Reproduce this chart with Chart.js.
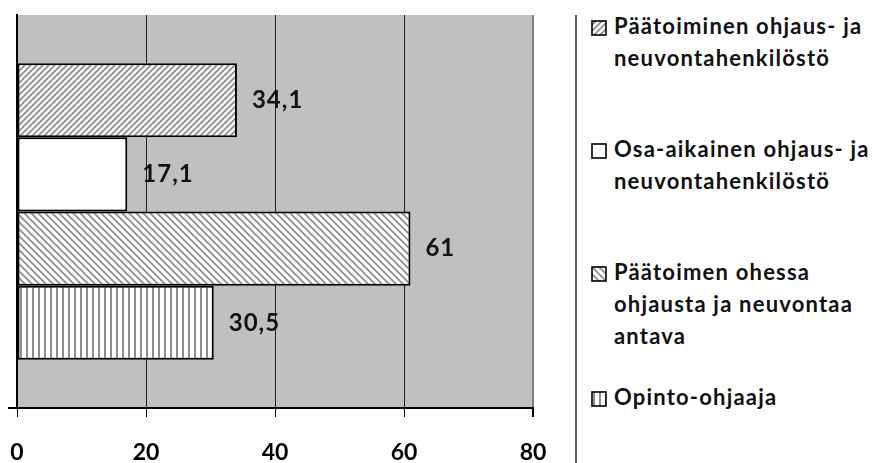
<!DOCTYPE html>
<html>
<head>
<meta charset="utf-8">
<script src="https://cdn.jsdelivr.net/npm/chart.js@4"></script>
<style>
  body { margin: 0; background: #fff; }
  #wrap { position: relative; width: 875px; height: 463px; overflow: hidden; }
  #chartBox { position: absolute; left: 0; top: 0; width: 575px; height: 489px; }
  #divider { position: absolute; left: 575px; top: 15px; width: 2px; height: 448px; background: #606060; }
  .item { position: absolute; left: 591px; font-family: Lato, sans-serif; font-weight: bold;
          font-size: 22px; line-height: 32px; color: #111; white-space: pre-line; letter-spacing: 1.2px; }
  .item canvas { position: absolute; left: 0; top: 10px; }
  .item span { display: block; margin-left: 23px; }
</style>
</head>
<body>
<div id="wrap">
  <div id="chartBox"><canvas id="canvas1"></canvas></div>
  <div id="divider"></div>
  <div id="legend"></div>
</div>
<script>
var ctx1 = document.getElementById("canvas1").getContext("2d");

// one category, four series (horizontal clustered bars)
const categories = [""];
const seriesNames = [
  "Päätoiminen ohjaus- ja\nneuvontahenkilöstö",
  "Osa-aikainen ohjaus- ja\nneuvontahenkilöstö",
  "Päätoimen ohessa\nohjausta ja neuvontaa\nantava",
  "Opinto-ohjaaja"
];
const seriesValues = [34.1, 17.1, 61, 30.5];
const xTicks = [0, 20, 40, 60, 80];

// hatch fills
function makePattern(kind, size) {
  const c = document.createElement("canvas");
  c.width = size; c.height = size;
  const g = c.getContext("2d");
  g.fillStyle = "#fff";
  g.fillRect(0, 0, size, size);
  g.strokeStyle = "#8c8c8c";
  g.lineWidth = 1.7;
  g.beginPath();
  if (kind === "up") {
    g.moveTo(0, size); g.lineTo(size, 0);
    g.moveTo(-size / 2, size / 2); g.lineTo(size / 2, -size / 2);
    g.moveTo(size / 2, size * 1.5); g.lineTo(size * 1.5, size / 2);
  } else if (kind === "down") {
    g.moveTo(0, 0); g.lineTo(size, size);
    g.moveTo(-size / 2, size / 2); g.lineTo(size / 2, size * 1.5);
    g.moveTo(size / 2, -size / 2); g.lineTo(size * 1.5, size / 2);
  } else if (kind === "vert") {
    g.lineWidth = 2;
    g.moveTo(size / 2, 0); g.lineTo(size / 2, size);
  }
  g.stroke();
  return g.createPattern(c, "repeat");
}

const fills = [
  makePattern("up", 6),
  "#ffffff",
  makePattern("down", 7),
  makePattern("vert", 6)
];

const plotBg = {
  id: "plotBg",
  beforeDraw(chart) {
    const a = chart.chartArea, c = chart.ctx;
    c.save();
    c.fillStyle = "#c0c0c0";
    c.fillRect(a.left, a.top, a.right - a.left, a.bottom - a.top);
    c.restore();
  }
};

const valueLabels = {
  id: "valueLabels",
  afterDatasetsDraw(chart) {
    const c = chart.ctx;
    c.save();
    c.font = "bold 24px Lato, sans-serif";
    c.letterSpacing = "1px";
    c.fillStyle = "#111";
    c.textAlign = "left";
    c.textBaseline = "middle";
    chart.data.datasets.forEach((ds, i) => {
      chart.getDatasetMeta(i).data.forEach((bar, j) => {
        const txt = String(ds.data[j]).replace(".", ",");
        c.fillText(txt, bar.x + 15, bar.y);
      });
    });
    c.restore();
  }
};

let myChart = new Chart(ctx1, {
  type: "bar",
  data: {
    labels: categories,
    datasets: seriesNames.map((name, i) => ({
      label: name,
      data: [seriesValues[i]],
      backgroundColor: fills[i],
      borderColor: "#000",
      borderWidth: 2,
      borderSkipped: false,
      barPercentage: 1,
      categoryPercentage: 0.755
    }))
  },
  options: {
    indexAxis: "y",
    responsive: true,
    maintainAspectRatio: false,
    animation: false,
    layout: { padding: { left: 8, top: 15, right: 42, bottom: 0 } },
    plugins: {
      legend: { display: false },
      tooltip: { enabled: false }
    },
    scales: {
      x: {
        min: xTicks[0],
        max: xTicks[xTicks.length - 1],
        ticks: {
          stepSize: 20,
          color: "#000",
          padding: 3,
          font: { family: "Lato", weight: "bold", size: 23, lineHeight: 66 / 23 }
        },
        grid: {
          color: (c) => (c.tick && c.tick.value === 80 ? "#808080" : "#222"),
          lineWidth: (c) => (c.tick && c.tick.value === 80 ? 2 : 1),
          tickColor: "#000",
          tickLength: 9
        },
        border: { color: "#000", width: 2 }
      },
      y: {
        ticks: { display: false },
        grid: {
          offset: true,
          drawOnChartArea: false,
          tickLength: 9,
          color: (c) => (c.index === 0 ? "rgba(0,0,0,0)" : "#000"),
          lineWidth: 2
        },
        border: { color: "#000", width: 2 }
      }
    }
  },
  plugins: [plotBg, valueLabels]
});

// legend on the right
const legendTops = [10, 133, 256, 381];
const legendEl = document.getElementById("legend");
seriesNames.forEach((name, i) => {
  const item = document.createElement("div");
  item.className = "item";
  item.style.top = legendTops[i] + "px";
  const sw = document.createElement("canvas");
  sw.width = 16; sw.height = 16;
  const g = sw.getContext("2d");
  g.fillStyle = fills[i];
  g.fillRect(1, 1, 14, 14);
  g.strokeStyle = "#000";
  g.lineWidth = 1.6;
  g.strokeRect(1, 1, 14, 14);
  const txt = document.createElement("span");
  txt.textContent = name;
  item.appendChild(sw);
  item.appendChild(txt);
  legendEl.appendChild(item);
});
</script>
</body>
</html>
